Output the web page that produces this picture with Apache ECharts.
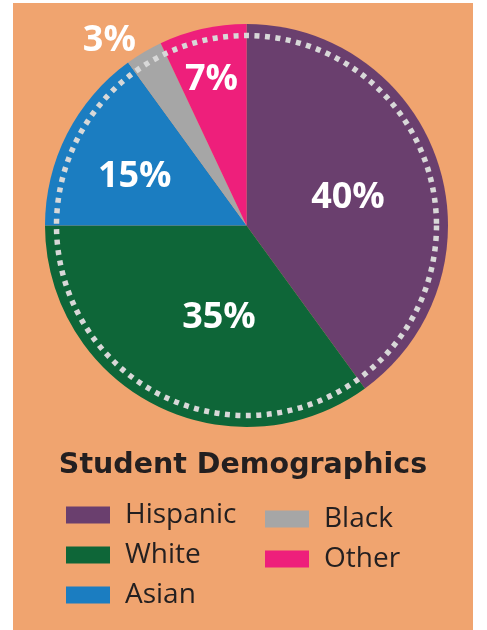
<!DOCTYPE html>
<html><head><meta charset="utf-8">
<script src="https://cdn.jsdelivr.net/npm/echarts@6/dist/echarts.min.js"></script>
<style>html,body{margin:0;padding:0;background:#fff;} #c{position:absolute;left:13px;top:3px;width:460px;height:627px;}</style>
</head><body><div id="c"></div>
<script>
const categories = ['Hispanic', 'White', 'Asian', 'Black', 'Other'];
const values = [40, 35, 15, 3, 7];
const colors = ['#6A3F6E', '#0E6638', '#1B7DC1', '#A6A6A6', '#EE1F7B'];
const titleText = 'Student Demographics';

const CX = 233.5, CY = 222.5, R = 201.5;
const labelRadius = [0.525, 0.467, 0.61, 1.15, 0.755];
const labelAngleShift = [1.5, -10, -2.4, -5.7, -0.7];

const total = values.reduce((a, b) => a + b, 0);
let acc = 0;
const mids = values.map(v => { const m = (acc + v / 2) / total * 360; acc += v; return m; });

const chart = echarts.init(document.getElementById('c'));
const legendBase = {
  orient: 'vertical', icon: 'rect', itemWidth: 44, itemHeight: 17, itemGap: 12,
  selectedMode: false, padding: 0,
  textStyle: { fontSize: 28, fontFamily: 'Open Sans', color: '#231F20', padding: [0, 0, 0, 10] }
};
chart.setOption({
  backgroundColor: '#F0A46F',
  animation: false,
  title: {
    text: titleText, left: 'center', top: 448, padding: 0,
    textStyle: { fontFamily: 'DejaVu Sans', fontWeight: 'bold', fontSize: 28.5, color: '#231F20' }
  },
  legend: [
    Object.assign({}, legendBase, { data: categories.slice(0, 3), left: 53, top: 498 }),
    Object.assign({}, legendBase, { data: categories.slice(3), left: 252, top: 502 })
  ],
  series: [{
    type: 'pie', center: [CX, CY], radius: R, startAngle: 90, clockwise: true,
    silent: true, emphasis: { disabled: true },
    data: categories.map((n, i) => ({ name: n, value: values[i], itemStyle: { color: colors[i] } })),
    label: {
      show: true, position: 'inside', formatter: '{c}%', color: '#fff',
      fontFamily: 'Open Sans', fontWeight: 'bold', fontSize: 36
    },
    labelLine: { show: false },
    labelLayout: function (p) {
      const i = p.dataIndex;
      const a = (mids[i] + labelAngleShift[i]) * Math.PI / 180;
      const r = R * labelRadius[i];
      return { x: CX + r * Math.sin(a), y: CY - r * Math.cos(a) + 2, align: 'center', verticalAlign: 'middle' };
    }
  }],
  graphic: [{
    type: 'circle', shape: { cx: CX, cy: CY, r: 190 }, silent: true, z: 10,
    style: { fill: 'none', stroke: '#D8D8D8', lineWidth: 5.5, lineDash: [5, 5.5] }
  }]
});
</script></body></html>
